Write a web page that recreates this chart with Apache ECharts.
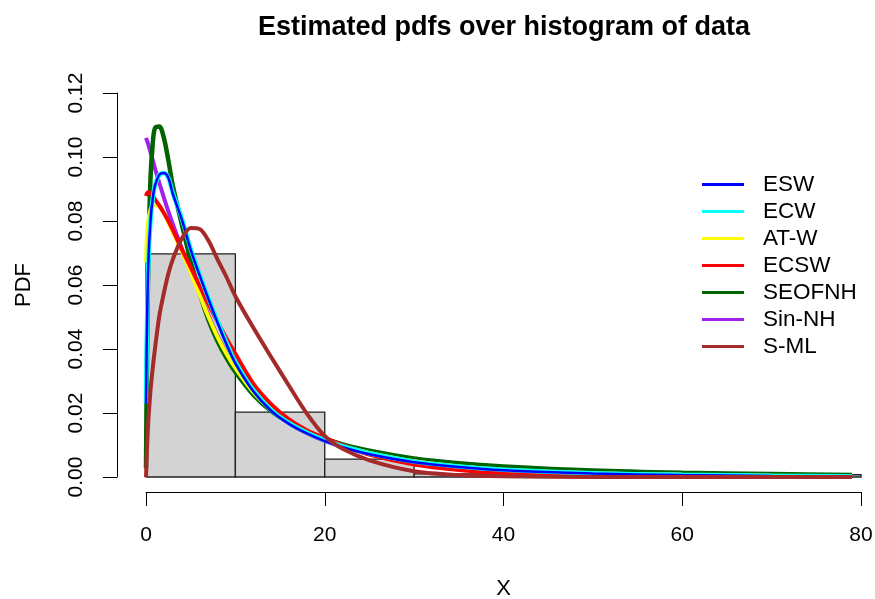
<!DOCTYPE html>
<html>
<head>
<meta charset="utf-8">
<script src="https://cdn.jsdelivr.net/npm/echarts@6/dist/echarts.min.js"></script>
<style>
  html, body { margin: 0; padding: 0; background: #fff; }
  #chart { width: 875px; height: 599px; }
</style>
</head>
<body>
<div id="chart"></div>
<script>
// histogram of the data (density scale)
var breaks = [0, 10, 20, 30, 40, 50, 60, 70, 80];
var density = [0.0697, 0.0203, 0.0056, 0.001, 0, 0, 0, 0.0007];

var xs = [0, 0.1, 0.25, 0.5, 0.75, 1, 1.5, 2, 2.5, 3, 4, 5, 6, 7, 8, 9, 10, 12, 14, 16, 18, 20, 22, 25, 30, 35, 40, 50, 60, 70, 79];

var esw    = [0.023, 0.045, 0.066, 0.080, 0.087, 0.091, 0.0945, 0.095, 0.0935, 0.0885, 0.0805, 0.071, 0.063, 0.0555, 0.0483, 0.0415, 0.0355, 0.0268, 0.0207, 0.0166, 0.0136, 0.0112, 0.0093, 0.0071, 0.0046, 0.0031, 0.0021, 0.0011, 0.0006, 0.0003, 0.0001];
var ecw    = [0.023, 0.045, 0.066, 0.080, 0.087, 0.091, 0.0945, 0.095, 0.0935, 0.0888, 0.0808, 0.0713, 0.0633, 0.0558, 0.0487, 0.042, 0.036, 0.0272, 0.021, 0.0169, 0.0139, 0.0115, 0.0096, 0.0074, 0.0048, 0.0033, 0.0023, 0.0012, 0.0007, 0.0004, 0.0002];
var atw    = [0.067, 0.075, 0.080, 0.0835, 0.0847, 0.085, 0.0845, 0.0825, 0.0795, 0.0765, 0.0705, 0.064, 0.057, 0.050, 0.0438, 0.0385, 0.034, 0.0265, 0.021, 0.017, 0.0139, 0.0115, 0.0097, 0.0075, 0.0049, 0.0033, 0.0023, 0.0012, 0.0007, 0.0004, 0.0002];
var ecsw   = [0.0878, 0.0886, 0.089, 0.0888, 0.088, 0.0868, 0.0848, 0.0825, 0.080, 0.0772, 0.0712, 0.0655, 0.0597, 0.054, 0.0485, 0.0433, 0.0385, 0.0292, 0.0228, 0.018, 0.0146, 0.0122, 0.010, 0.007, 0.0039, 0.0022, 0.0012, 0.0004, 0.0001, 0, 0];
var seofnh = [0.0027, 0.035, 0.066, 0.093, 0.104, 0.109, 0.1095, 0.106, 0.099, 0.091, 0.079, 0.0675, 0.0575, 0.049, 0.0425, 0.0372, 0.0328, 0.0257, 0.0206, 0.017, 0.0142, 0.012, 0.0102, 0.0082, 0.0058, 0.0043, 0.0033, 0.002, 0.0013, 0.0009, 0.0006];
var sinnh  = [0.106, 0.1052, 0.104, 0.1015, 0.099, 0.0965, 0.0918, 0.0873, 0.083, 0.079, 0.0715, 0.0645, 0.0575, 0.0505, 0.0442, 0.0388, 0.0342, 0.0266, 0.0209, 0.0168, 0.0137, 0.0113, 0.0094, 0.0072, 0.0046, 0.003, 0.002, 0.001, 0.0005, 0.0003, 0.0001];
var sml    = [0, 0.008, 0.017, 0.027, 0.034, 0.040, 0.0505, 0.0575, 0.0635, 0.068, 0.0745, 0.0778, 0.0775, 0.0738, 0.068, 0.0625, 0.0565, 0.0467, 0.0375, 0.0285, 0.0198, 0.0128, 0.0088, 0.0052, 0.0018, 0.0006, 0.0002, 0, 0, 0, 0];

var legendNames = ["ESW", "ECW", "AT-W", "ECSW", "SEOFNH", "Sin-NH", "S-ML"];
var FONT = "Liberation Sans, Arial, Helvetica, sans-serif";

function pairs(ys) {
    return xs.map(function (x, i) { return [x, ys[i]]; });
}

function curve(name, ys, color, width) {
    return {
        name: name,
        type: "line",
        data: pairs(ys),
        color: color,
        showSymbol: false,
        symbol: "none",
        smooth: 0.3,
        lineStyle: { color: color, width: width },
        emphasis: { disabled: true },
        silent: true
    };
}

var bins = density.map(function (d, i) { return [breaks[i], breaks[i + 1], d]; });

var chart = echarts.init(document.getElementById("chart"));
chart.setOption({
    animation: false,
    backgroundColor: "#fff",
    title: {
        text: "Estimated pdfs over histogram of data",
        left: 499,
        top: 9,
        textAlign: "center",
        textStyle: { fontFamily: FONT, fontSize: 27, fontWeight: "bold", color: "#000" }
    },
    legend: {
        data: legendNames,
        orient: "vertical",
        left: 697,
        top: 168,
        icon: "rect",
        itemWidth: 42,
        itemHeight: 3,
        itemGap: 4,
        textStyle: { fontFamily: FONT, fontSize: 22.5, color: "#000", lineHeight: 22, padding: [0, 0, 0, 14] }
    },
    grid: { left: 146, right: 14, top: 93, bottom: 122, outerBoundsMode: "none" },
    xAxis: {
        type: "value",
        min: 0, max: 80, interval: 20,
        offset: 15,
        name: "X",
        nameLocation: "middle",
        nameGap: 86,
        nameTextStyle: { fontFamily: FONT, fontSize: 22, color: "#000" },
        axisLine: { show: true, onZero: false, lineStyle: { color: "#000", width: 1 } },
        axisTick: { show: true, length: 14, lineStyle: { color: "#000" } },
        axisLabel: { fontFamily: FONT, fontSize: 21, color: "#000", margin: 33 },
        splitLine: { show: false }
    },
    yAxis: {
        type: "value",
        min: 0, max: 0.12, interval: 0.02,
        offset: 29,
        name: "PDF",
        nameLocation: "middle",
        nameRotate: 90,
        nameGap: 82,
        nameTextStyle: { fontFamily: FONT, fontSize: 22, color: "#000" },
        axisLine: { show: true, onZero: false, lineStyle: { color: "#000", width: 1 } },
        axisTick: { show: true, length: 14, lineStyle: { color: "#000" } },
        axisLabel: {
            fontFamily: FONT, fontSize: 21, color: "#000", rotate: 90, margin: 30,
            formatter: function (v) { return v.toFixed(2); }
        },
        splitLine: { show: false }
    },
    series: [
        {
            name: "hist",
            type: "custom",
            data: bins,
            encode: { x: [0, 1], y: 2 },
            silent: true,
            renderItem: function (params, api) {
                var p0 = api.coord([api.value(0), api.value(2)]);
                var p1 = api.coord([api.value(1), 0]);
                return {
                    type: "rect",
                    shape: { x: p0[0], y: p0[1], width: p1[0] - p0[0], height: p1[1] - p0[1] },
                    style: { fill: "#D3D3D3", stroke: "#222", lineWidth: 1.3 }
                };
            }
        },
        curve("Sin-NH", sinnh, "#A020F0", 4),
        curve("SEOFNH", seofnh, "#006400", 4.5),
        curve("AT-W", atw, "#FFFF00", 4),
        curve("ECSW", ecsw, "#FF0000", 4),
        curve("ECW", ecw, "#00FFFF", 4.5),
        curve("ESW", esw, "#0000FF", 2.5),
        curve("S-ML", sml, "#A52A2A", 4)
    ]
});
</script>
</body>
</html>
